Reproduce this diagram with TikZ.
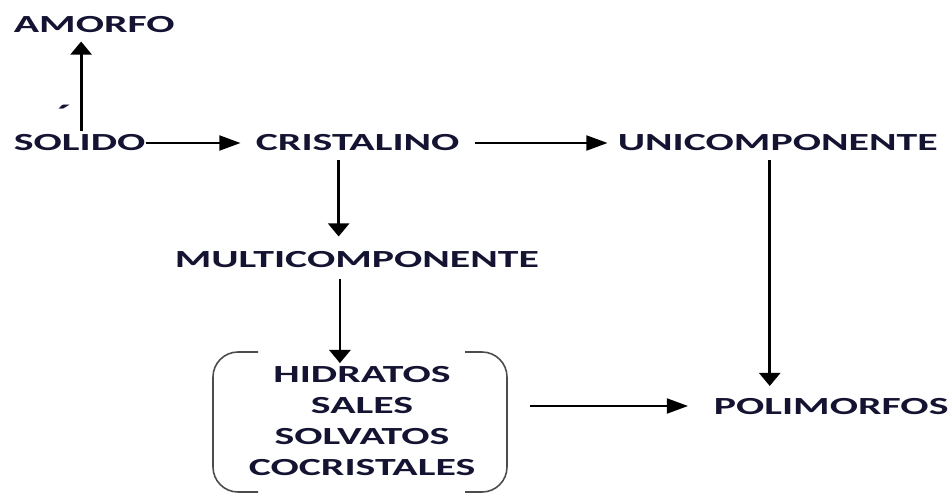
\documentclass[tikz,border=0pt]{standalone}
\usepackage{fontspec}
\newfontfamily\diafont[FakeStretch=1.70]{Carlito}
\usetikzlibrary{arrows.meta,calc}
\definecolor{txtcol}{RGB}{20,20,50}
\begin{document}
\begin{tikzpicture}[x=0.02cm, y=-0.02cm,
    lbl/.style={text=txtcol, inner sep=2pt, font=\diafont\bfseries\fontsize{14}{17.6}\selectfont},
    harr/.style={-{Triangle[length=12pt,width=8.5pt]}, line width=1.2pt},
    varr/.style={-{Triangle[length=7.5pt,width=12pt]}, line width=1.6pt}]
    \useasboundingbox (0,0) rectangle (951,494);
    \node[lbl, anchor=west] (amorfo) at (10,25) {AMORFO};
    \node[lbl, anchor=west] (solido) at (10,143) {SOLIDO};
    \node[lbl, inner sep=0pt, anchor=base, font=\diafont\bfseries\fontsize{16}{18}\selectfont] (acento) at (64,124) {´};
    \node[lbl, anchor=west] (cristalino) at (252,143) {CRISTALINO};
    \node[lbl, anchor=west] (unicomp) at (614,143) {UNICOMPONENTE};
    \node[lbl, anchor=west] (multicomp) at (171,260) {MULTICOMPONENTE};
    \node[lbl, anchor=west] (polimorfos) at (710,407) {POLIMORFOS};
    \node[lbl, align=center] (lista) at (362,421) {HIDRATOS\\SALES\\SOLVATOS\\COCRISTALES};
    % brackets round the list
    \draw[gray!60!black, line width=0.9pt, rounded corners=0.5cm]
        ($(lista.center)+(-104,-69)$) -- ($(lista.center)+(-149,-69)$)
        -- ($(lista.center)+(-149,71)$) -- ($(lista.center)+(-104,71)$);
    \draw[gray!60!black, line width=0.9pt, rounded corners=0.5cm]
        ($(lista.center)+(103,-69)$) -- ($(lista.center)+(145,-69)$)
        -- ($(lista.center)+(145,71)$) -- ($(lista.center)+(103,71)$);
    \coordinate (cajaeste) at ($(lista.center)+(145,-15)$);
    % arrows
    \draw[varr, shorten >=0.09cm] ([xshift=0.03cm]solido.north) -- ([xshift=0.03cm]solido.north |- amorfo.south);
    \draw[harr, shorten <=-0.07cm, shorten >=0.23cm] (solido.east) -- (cristalino.west);
    \draw[harr, shorten <=0.23cm, shorten >=0.13cm] (cristalino.east) -- (unicomp.west);
    \draw[varr, shorten <=0.09cm, shorten >=0.23cm] ([xshift=-0.38cm]cristalino.south) -- ([xshift=-0.38cm]cristalino.south |- multicomp.north);
    \draw[varr, shorten <=0.13cm, shorten >=-0.01cm] ([xshift=-0.34cm]multicomp.south) -- ([xshift=-0.34cm]multicomp.south |- lista.north);
    \draw[varr, shorten <=0.09cm, shorten >=0.18cm] ([xshift=-0.16cm]unicomp.south) -- ([xshift=-0.16cm]unicomp.south |- polimorfos.north);
    \draw[harr, shorten <=0.46cm, shorten >=0.44cm] (cajaeste) -- (cajaeste -| polimorfos.west);
\end{tikzpicture}
\end{document}
